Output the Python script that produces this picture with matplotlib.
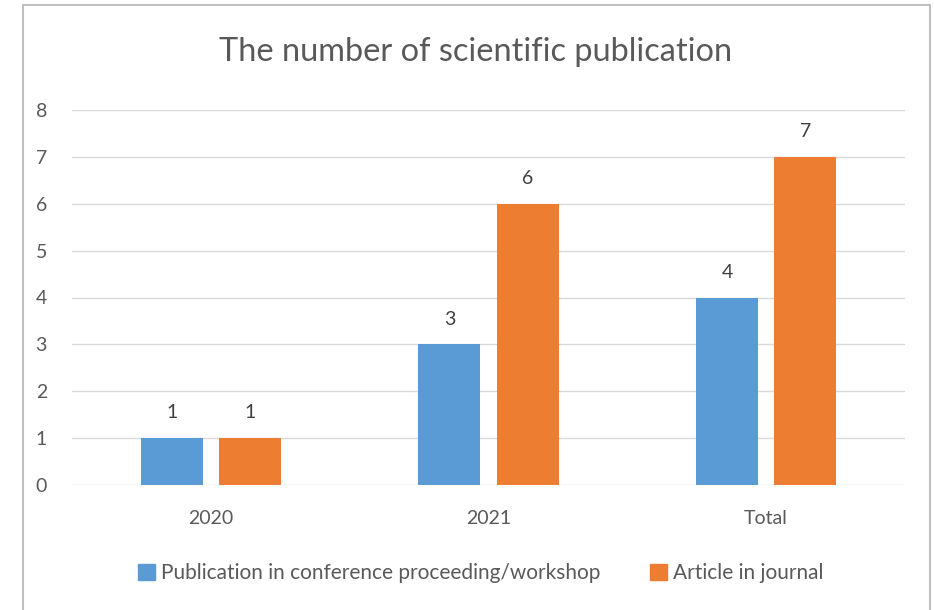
import matplotlib.pyplot as plt
import matplotlib.patches as mpatches
import numpy as np

# data
categories = ["2020", "2021", "Total"]
conference = [1, 3, 4]
journal = [1, 6, 7]
series_names = ["Publication in conference proceeding/workshop", "Article in journal"]

blue = "#5B9BD5"
orange = "#ED7D31"
text_col = "#595959"
grid_col = "#D9D9D9"

plt.rcParams['font.family'] = ['Lato', 'DejaVu Sans']

fig = plt.figure(figsize=(9.34, 6.1), dpi=100)
ax = fig.add_axes([72 / 934, 1 - 485 / 610, (905 - 72) / 934, (485 - 110) / 610])

x = np.arange(len(categories))
w = 0.223
off = 0.141
b1 = ax.bar(x - off, conference, w, color=blue, zorder=3)
b2 = ax.bar(x + off, journal, w, color=orange, zorder=3)

for bars, vals in ((b1, conference), (b2, journal)):
    for b, v in zip(bars, vals):
        ax.annotate(str(v), (b.get_x() + b.get_width() / 2, v), xytext=(0, 12),
                    textcoords="offset points", ha="center", va="bottom",
                    fontsize=14, color="#404040")

ax.set_xlim(-0.5, 2.5)
ax.set_ylim(0, 8)
ax.set_yticks(range(0, 9))
ax.set_xticks(x)
ax.set_xticklabels(categories)
ax.yaxis.grid(True, color=grid_col, linewidth=1)
ax.set_axisbelow(True)
for s in ax.spines.values():
    s.set_visible(False)
ax.tick_params(axis="both", length=0, labelsize=14, labelcolor=text_col)
ax.tick_params(axis="y", pad=18)
ax.tick_params(axis="x", pad=18)

# title
fig.text(476 / 934, 1 - 52 / 610, "The number of scientific publication",
         ha="center", va="center", fontsize=23.4, color=text_col)

# legend
handles = [mpatches.Patch(color=blue), mpatches.Patch(color=orange)]
fig.legend(handles, series_names, loc="center", bbox_to_anchor=(481 / 934, 1 - 573 / 610),
           ncol=2, frameon=False, handlelength=0.8, handleheight=0.8, handletextpad=0.3,
           columnspacing=2.4, fontsize=15, labelcolor=text_col)

# chart border
fig.patches.append(mpatches.Rectangle((23 / 934, -0.01), (930 - 23) / 934, 1 - 5 / 610 + 0.01,
                                      transform=fig.transFigure, fill=False,
                                      edgecolor="#BFBFBF", linewidth=1.5))

fig.savefig("out.png", dpi=100)
